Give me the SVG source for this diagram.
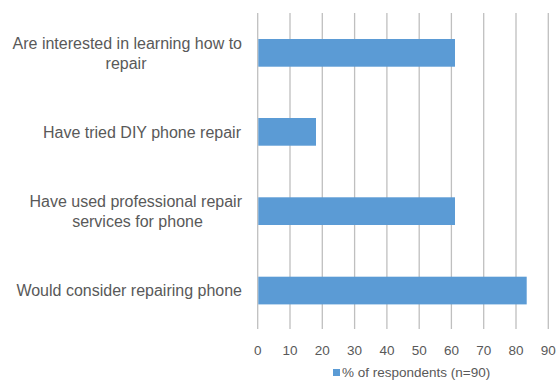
<svg xmlns="http://www.w3.org/2000/svg" width="558" height="381" viewBox="0 0 558 381">
<style>
.grid{stroke:#bfbfbf;stroke-width:1.3}
.bar{fill:#5b9bd5}
.cat{font-family:"Liberation Sans",Arial,sans-serif;font-size:16px;fill:#595959}
.tick{font-family:"Liberation Sans",Arial,sans-serif;font-size:13.5px;fill:#595959;text-anchor:middle}
.leg{font-family:"Liberation Sans",Arial,sans-serif;font-size:13.5px;fill:#595959}
</style>
<rect width="558" height="381" fill="#ffffff"/>
<g id="gridlines">
<line class="grid" x1="257.7" y1="13" x2="257.7" y2="329"/>
<line class="grid" x1="290" y1="13" x2="290" y2="329"/>
<line class="grid" x1="322.3" y1="13" x2="322.3" y2="329"/>
<line class="grid" x1="354.6" y1="13" x2="354.6" y2="329"/>
<line class="grid" x1="386.9" y1="13" x2="386.9" y2="329"/>
<line class="grid" x1="419.2" y1="13" x2="419.2" y2="329"/>
<line class="grid" x1="451.4" y1="13" x2="451.4" y2="329"/>
<line class="grid" x1="483.7" y1="13" x2="483.7" y2="329"/>
<line class="grid" x1="516" y1="13" x2="516" y2="329"/>
<line class="grid" x1="548.3" y1="13" x2="548.3" y2="329"/>
</g>
<g id="bar-interested">
<rect class="bar" x="258.3" y="39" width="196.7" height="27.7"/>
<text class="cat" x="242" y="48.5" text-anchor="end">Are interested in learning how to</text>
<text class="cat" x="126" y="68.5" text-anchor="middle">repair</text>
</g>
<g id="bar-diy">
<rect class="bar" x="258.3" y="118" width="57.7" height="27.7"/>
<text class="cat" x="241" y="137.8" text-anchor="end">Have tried DIY phone repair</text>
</g>
<g id="bar-professional">
<rect class="bar" x="258.3" y="197.3" width="196.7" height="27.7"/>
<text class="cat" x="242" y="206.8" text-anchor="end">Have used professional repair</text>
<text class="cat" x="137.5" y="226.8" text-anchor="middle">services for phone</text>
</g>
<g id="bar-consider">
<rect class="bar" x="258.3" y="276.7" width="268.4" height="27.7"/>
<text class="cat" x="242" y="296" text-anchor="end">Would consider repairing phone</text>
</g>
<g id="axis-labels">
<text class="tick" x="257.7" y="355">0</text>
<text class="tick" x="290" y="355">10</text>
<text class="tick" x="322.3" y="355">20</text>
<text class="tick" x="354.6" y="355">30</text>
<text class="tick" x="386.9" y="355">40</text>
<text class="tick" x="419.2" y="355">50</text>
<text class="tick" x="451.4" y="355">60</text>
<text class="tick" x="483.7" y="355">70</text>
<text class="tick" x="516" y="355">80</text>
<text class="tick" x="548.3" y="355">90</text>
</g>
<g id="legend">
<rect class="bar" x="333" y="369" width="7" height="7"/>
<text class="leg" x="342" y="377">% of respondents (n=90)</text>
</g>
</svg>
